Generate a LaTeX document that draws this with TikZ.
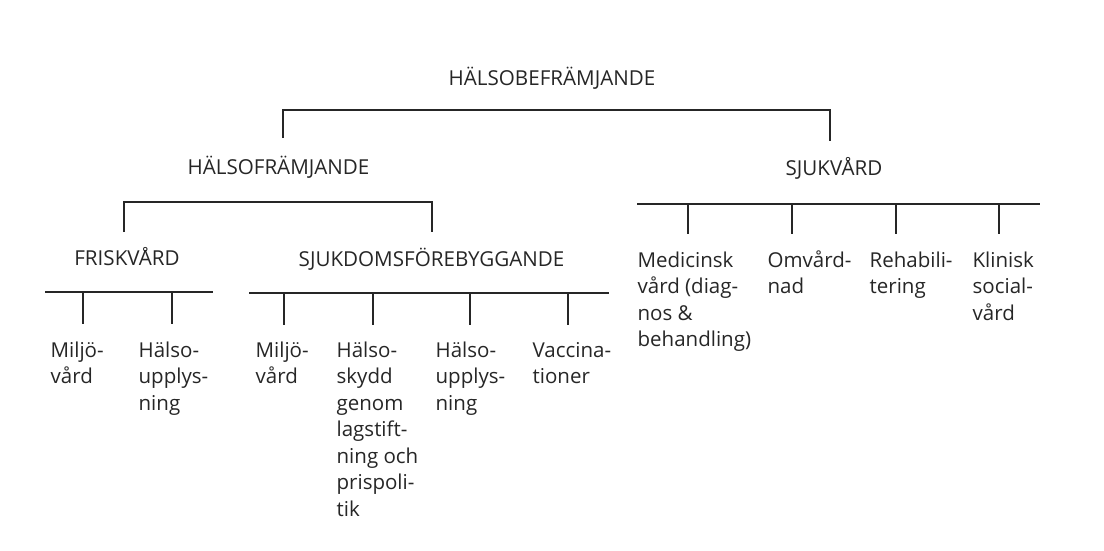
\documentclass[tikz,border=0pt]{standalone}
\usepackage{fontspec}
\setmainfont{Open Sans}
\begin{document}
\begin{tikzpicture}[x=1pt,y=-1pt,
  line width=1.3pt, draw=black!85,
  head/.style={inner sep=0pt, anchor=base, font=\fontsize{20.6}{26.5}\selectfont, text=black!85},
  leaf/.style={inner sep=0pt, anchor=base west, align=left, font=\fontsize{20.5}{26.5}\selectfont, text=black!85}]
\useasboundingbox (0,0) rectangle (1104,551);
% headers
\node[head] (top) at (552,86) {HÄLSOBEFRÄMJANDE};
\node[head] (hf) at (278.5,174) {HÄLSOFRÄMJANDE};
\node[head] (sv) at (834,175) {SJUKVÅRD};
\node[head] (fv) at (127,265) {FRISKVÅRD};
\node[head] (sf) at (431.5,266) {SJUKDOMSFÖREBYGGANDE};
% leaves left (anchor = baseline of last line; first baseline 357, step 26.5)
\node[leaf] (l1) at (50,383.5) {Miljö-\\vård};
\node[leaf] (l2) at (138,410) {Hälso-\\upplys-\\ning};
\node[leaf] (l3) at (255,383.5) {Miljö-\\vård};
\node[leaf] (l4) at (336,516) {Hälso-\\skydd\\genom\\lagstift-\\ning och\\prispoli-\\tik};
\node[leaf] (l5) at (435,410) {Hälso-\\upplys-\\ning};
\node[leaf] (l6) at (532,383.5) {Vaccina-\\tioner};
% leaves right (first baseline 267)
\node[leaf] (r1) at (637,346.5) {Medicinsk\\vård (diag-\\nos \&\\behandling)};
\node[leaf] (r2) at (767,293.5) {Omvård-\\nad};
\node[leaf] (r3) at (869,293.5) {Rehabili-\\tering};
\node[leaf] (r4) at (972,320) {Klinisk\\social-\\vård};
% top bracket
\coordinate (topL) at (283,138);
\coordinate (topR) at (830,141);
\draw (topL) |- (830,110) -- (topR);
% HÄLSOFRÄMJANDE bracket
\coordinate (hfL) at (124,232);
\coordinate (hfR) at (432,232);
\draw (hfL) |- (432,202) -- (hfR);
% SJUKVÅRD bar
\coordinate (svA) at (637,204);
\coordinate (svB) at (1040,204);
\draw (svA) -- (svB);
\foreach \x in {688,792,896,999} \draw (\x,204) -- (\x,234);
% FRISKVÅRD bar
\coordinate (fvA) at (45,292);
\coordinate (fvB) at (213,292);
\draw (fvA) -- (fvB);
\foreach \x in {83,172} \draw (\x,292) -- (\x,324);
% SJUKDOMSFÖREBYGGANDE bar
\coordinate (sfA) at (249,293);
\coordinate (sfB) at (609,293);
\draw (sfA) -- (sfB);
\foreach \x in {284,373,470,568} \draw (\x,293) -- (\x,325);
\end{tikzpicture}
\end{document}
